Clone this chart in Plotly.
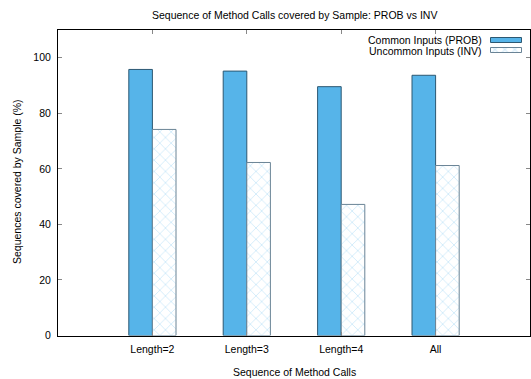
import plotly.graph_objects as go

# Data
categories = ["Length=2", "Length=3", "Length=4", "All"]
common_prob = [95.8, 95.2, 89.6, 93.7]
uncommon_inv = [74.2, 62.3, 47.2, 61.2]
series_names = ["Common Inputs (PROB)", "Uncommon Inputs (INV)"]
y_ticks = [0, 20, 40, 60, 80, 100]

W, H = 531, 379
FONT = dict(family="Liberation Sans, Arial, Helvetica, sans-serif", size=10.5, color="black")

BLUE = "#56b4e9"
BLUE_EDGE = "#2c5872"
HATCH = "#a6d8f4"
HATCH_EDGE = "#6a8496"

# plot area in pixels
PL, PR, PT, PB = 58, 530, 30, 335.5

fig = go.Figure()

fig.add_trace(go.Bar(
    x=categories, y=common_prob, name=series_names[0],
    marker=dict(color=BLUE, line=dict(color=BLUE_EDGE, width=1)),
    showlegend=False,
))
fig.add_trace(go.Bar(
    x=categories, y=uncommon_inv, name=series_names[1],
    marker=dict(color="white", line=dict(color=HATCH_EDGE, width=1),
                pattern=dict(shape="x", fgcolor=HATCH, bgcolor="white", size=8, solidity=0.22)),
    showlegend=False,
))

# key samples drawn in a pixel-space overlay
def key_box(x0, x1, y0, y1, **kw):
    return go.Scatter(
        x=[x0, x1, x1, x0, x0], y=[y0, y0, y1, y1, y0],
        mode="lines", fill="toself", xaxis="x2", yaxis="y2",
        hoverinfo="skip", showlegend=False, **kw)

fig.add_trace(key_box(490.5, 521.5, 37.5, 42.5, fillcolor=BLUE,
                      line=dict(color=BLUE_EDGE, width=1)))
fig.add_trace(key_box(490.5, 521.5, 47.5, 52.5, fillcolor="white",
                      fillpattern=dict(shape="x", fgcolor=HATCH, bgcolor="white", size=7, solidity=0.3),
                      line=dict(color=HATCH_EDGE, width=1)))

fig.update_layout(
    width=W, height=H,
    margin=dict(l=0, r=0, t=0, b=0),
    paper_bgcolor="white", plot_bgcolor="rgba(0,0,0,0)",
    font=FONT,
    barmode="group", bargap=0.5, bargroupgap=0,
    showlegend=False,
    xaxis=dict(
        domain=[PL / W, PR / W], range=[-1, 4], type="category",
        showline=True, linecolor="black", linewidth=1, mirror="ticks",
        ticks="inside", ticklen=4, tickcolor="#888888",
        showgrid=False, zeroline=False, automargin=False,
        ticklabelstandoff=4,
    ),
    yaxis=dict(
        domain=[1 - PB / H, 1 - PT / H], range=[0, 110],
        tickvals=y_ticks,
        showline=True, linecolor="black", linewidth=1, mirror="ticks",
        ticks="inside", ticklen=4, tickcolor="#888888",
        showgrid=False, zeroline=False, automargin=False,
        ticklabelstandoff=4,
    ),
    xaxis2=dict(domain=[0, 1], range=[0, W], anchor="y2", visible=False, fixedrange=True),
    yaxis2=dict(domain=[0, 1], range=[H, 0], anchor="x2", visible=False, fixedrange=True),
    annotations=[
        dict(text="Sequence of Method Calls covered by Sample: PROB vs INV",
             x=(PL + PR) / 2 / W, y=1 - 15 / H, xref="paper", yref="paper",
             xanchor="center", yanchor="middle", showarrow=False),
        dict(text="Sequence of Method Calls",
             x=(PL + PR) / 2 / W, y=1 - 372 / H, xref="paper", yref="paper",
             xanchor="center", yanchor="middle", showarrow=False),
        dict(text="Sequences covered by Sample (%)", textangle=-90,
             x=17 / W, y=1 - 182 / H, xref="paper", yref="paper",
             xanchor="center", yanchor="middle", showarrow=False),
        dict(text=series_names[0], x=484 / W, y=1 - 40 / H, xref="paper", yref="paper",
             xanchor="right", yanchor="middle", showarrow=False),
        dict(text=series_names[1], x=484 / W, y=1 - 50.5 / H, xref="paper", yref="paper",
             xanchor="right", yanchor="middle", showarrow=False),
    ],
)

fig.write_html("out.html")
